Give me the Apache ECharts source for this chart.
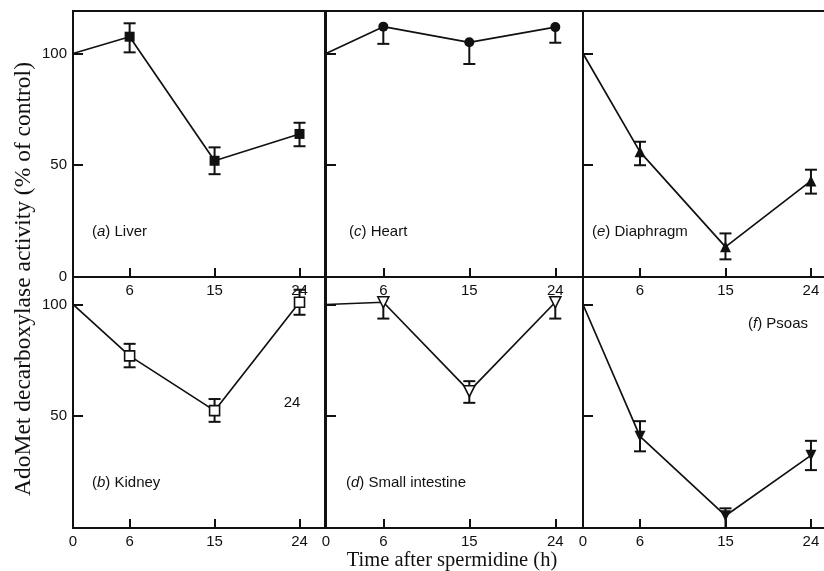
<!DOCTYPE html>
<html>
<head>
<meta charset="utf-8">
<script src="https://cdn.jsdelivr.net/npm/echarts@6/dist/echarts.min.js"></script>
<style>
html, body { margin: 0; padding: 0; background: #fff; }
#chart { width: 824px; height: 571px; }
</style>
</head>
<body>
<div id="chart"></div>
<script>
// time after spermidine (h)
var hours = [0, 6, 15, 24];
var xLabelsTop = [6, 15, 24];
var xLabelsBottom = [0, 6, 15, 24];
var yLabelsTop = [0, 50, 100];
var yLabelsBottom = [50, 100];
var yTickValues = [50, 100];

// AdoMet decarboxylase activity, % of control
var liver = [100, 107.5, 52, 64];
var liverUp = [0, 6, 6, 5];
var liverDown = [0, 7, 6, 5.5];

var heart = [100, 112, 105, 111.8];
var heartUp = [0, 0, 0, 0];
var heartDown = [0, 7.7, 9.7, 7];

var diaphragm = [100, 56, 13.5, 43];
var diaphragmUp = [0, 4.5, 6, 5];
var diaphragmDown = [0, 6, 5.6, 5.7];

var kidney = [100, 77, 52.5, 101];
var kidneyUp = [0, 5.4, 5.2, 5.6];
var kidneyDown = [0, 5.1, 5, 5.6];

var intestine = [100, 101, 61.2, 101];
var intestineUp = [0, 0, 4.5, 0];
var intestineDown = [0, 7.3, 5.2, 7.3];

var psoas = [100, 41, 5.5, 32.5];
var psoasUp = [0, 6.8, 3.3, 6.5];
var psoasDown = [0, 6.7, 5.5, 6.6];

var panels = [
    { name: 'Liver', letter: 'a', vals: liver, up: liverUp, down: liverDown, symbol: 'rect', size: 10, open: false, rotate: 0 },
    { name: 'Heart', letter: 'c', vals: heart, up: heartUp, down: heartDown, symbol: 'circle', size: 10, open: false, rotate: 0 },
    { name: 'Diaphragm', letter: 'e', vals: diaphragm, up: diaphragmUp, down: diaphragmDown, symbol: 'triangle', size: 11, open: false, rotate: 0 },
    { name: 'Kidney', letter: 'b', vals: kidney, up: kidneyUp, down: kidneyDown, symbol: 'rect', size: 10, open: true, rotate: 0 },
    { name: 'Small intestine', letter: 'd', vals: intestine, up: intestineUp, down: intestineDown, symbol: 'triangle', size: 11, open: true, rotate: 180 },
    { name: 'Psoas', letter: 'f', vals: psoas, up: psoasUp, down: psoasDown, symbol: 'triangle', size: 11, open: false, rotate: 180 }
];

// layout of the 3x2 block of panels (right column runs off the page)
var colLeft = [73, 326, 583];
var colWidth = [252, 257, 246];
var colXMax = [26.7, 26.9, 25.9];
var rowTop = [11, 277];
var rowHeight = [266, 251];
var rowYMax = [119, 112.3];

var tickFont = { color: '#111', fontSize: 15, fontFamily: 'Liberation Sans, Arial, sans-serif' };

function errorBars(params, api) {
    var x = api.value(0), lo = api.value(1), hi = api.value(2), m = api.value(3);
    var pLo = api.coord([x, lo]);
    var pHi = api.coord([x, hi]);
    var st = { stroke: '#111', lineWidth: 2 };
    var kids = [{ type: 'line', shape: { x1: pLo[0], y1: pLo[1], x2: pHi[0], y2: pHi[1] }, style: st }];
    if (lo < m) kids.push({ type: 'line', shape: { x1: pLo[0] - 6, y1: pLo[1], x2: pLo[0] + 6, y2: pLo[1] }, style: st });
    if (hi > m) kids.push({ type: 'line', shape: { x1: pHi[0] - 6, y1: pHi[1], x2: pHi[0] + 6, y2: pHi[1] }, style: st });
    return { type: 'group', children: kids };
}

var grids = [], xAxes = [], yAxes = [], series = [], texts = [];

panels.forEach(function (p, i) {
    var col = i % 3, row = Math.floor(i / 3);
    // panels (a),(c),(e) are on top, (b),(d),(f) below
    grids.push({
        left: colLeft[col], top: rowTop[row], width: colWidth[col], height: rowHeight[row],
        outerBoundsMode: 'none', containLabel: false,
        show: true, borderColor: '#111', borderWidth: 2, backgroundColor: 'transparent'
    });
    xAxes.push({
        type: 'value', gridIndex: i, min: 0, max: colXMax[col],
        axisLine: { show: false },
        axisTick: { show: true, inside: true, length: 9, customValues: [6, 15, 24], lineStyle: { color: '#111', width: 2 } },
        axisLabel: Object.assign({ margin: 6, customValues: row === 0 ? xLabelsTop : xLabelsBottom }, tickFont),
        splitLine: { show: false }
    });
    yAxes.push({
        type: 'value', gridIndex: i, min: 0, max: rowYMax[row],
        axisLine: { show: false },
        axisTick: { show: true, inside: true, length: 10, customValues: yTickValues, lineStyle: { color: '#111', width: 2 } },
        axisLabel: Object.assign({ show: col === 0, margin: 6, customValues: row === 0 ? yLabelsTop : yLabelsBottom }, tickFont),
        splitLine: { show: false }
    });

    var errData = [];
    for (var k = 1; k < hours.length; k++) {
        errData.push([hours[k], p.vals[k] - p.down[k], p.vals[k] + p.up[k], p.vals[k]]);
    }
    series.push({
        type: 'custom', xAxisIndex: i, yAxisIndex: i, z: 2,
        renderItem: errorBars, encode: { x: 0, y: [1, 2] }, data: errData, silent: true
    });
    series.push({
        type: 'line', name: p.name, xAxisIndex: i, yAxisIndex: i, z: 3,
        data: hours.map(function (h, k) {
            return k === 0 ? { value: [h, p.vals[k]], symbol: 'none' } : [h, p.vals[k]];
        }),
        symbol: p.symbol, symbolSize: p.size, symbolRotate: p.rotate, showAllSymbol: true,
        lineStyle: { color: '#111', width: 1.7 },
        itemStyle: p.open ? { color: '#fff', borderColor: '#111', borderWidth: 1.6 } : { color: '#111', borderColor: '#111', borderWidth: 0 },
        emphasis: { disabled: true }
    });
});

var labelPos = [[92, 232], [349, 232], [592, 232], [92, 483], [346, 483], [748, 324]];
panels.forEach(function (p, i) {
    texts.push({
        type: 'text', x: labelPos[i][0], y: labelPos[i][1],
        style: {
            text: '({i|' + p.letter + '}) ' + p.name,
            verticalAlign: 'middle', fill: '#111',
            font: '15px "Liberation Sans", Arial, sans-serif',
            rich: { i: { fontStyle: 'italic', fontSize: 15, fontFamily: 'Liberation Sans', fill: '#111' } }
        }
    });
});

// stray label printed inside panel (b)
texts.push({
    type: 'text', x: 292, y: 403,
    style: { text: '24', align: 'center', verticalAlign: 'middle', fill: '#111', font: '15px "Liberation Sans", Arial, sans-serif' }
});
// axis titles
texts.push({
    type: 'text', x: 24, y: 279, rotation: Math.PI / 2,
    style: { text: 'AdoMet decarboxylase activity (% of control)', align: 'center', verticalAlign: 'middle', fill: '#111',
        font: '23.5px "Liberation Serif", "Times New Roman", serif' }
});
texts.push({
    type: 'text', x: 452, y: 561,
    style: { text: 'Time after spermidine (h)', align: 'center', verticalAlign: 'middle', fill: '#111',
        font: '20.5px "Liberation Serif", "Times New Roman", serif' }
});

var myChart = echarts.init(document.getElementById('chart'));
myChart.setOption({
    animation: false,
    backgroundColor: '#fff',
    grid: grids,
    xAxis: xAxes,
    yAxis: yAxes,
    series: series,
    graphic: texts
});
window.addEventListener('resize', function () { myChart.resize(); });
</script>
</body>
</html>
